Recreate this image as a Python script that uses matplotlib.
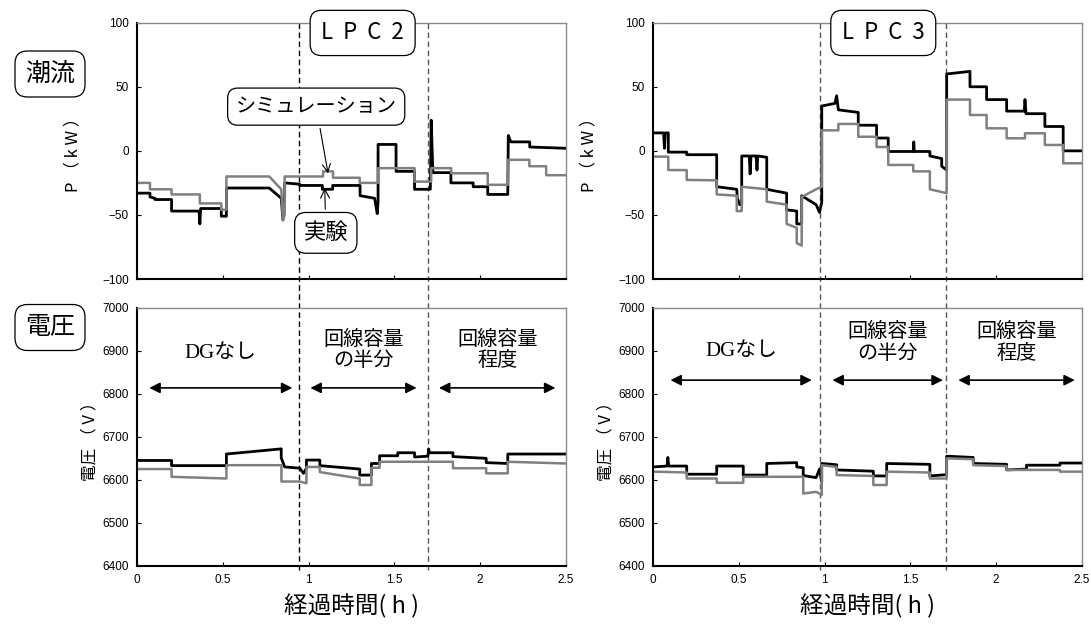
import matplotlib
matplotlib.use("Agg")
import matplotlib.pyplot as plt
from matplotlib.lines import Line2D
from matplotlib.transforms import blended_transform_factory

plt.rcParams['font.family'] = ['Liberation Sans', 'Noto Sans CJK JP']
JP = ['Noto Sans CJK JP', 'DejaVu Sans']

# ---- data (time in h) ----
# LPC2 power flow P (kW)
lpc2_p_exp_t = [0, 0.074, 0.074, 0.103, 0.103, 0.20, 0.20, 0.36, 0.365, 0.37, 0.49, 0.49, 0.52, 0.52,
                0.77, 0.84, 0.85, 0.86, 0.86, 0.948, 0.948, 1.08, 1.08, 1.14, 1.14, 1.30, 1.30, 1.385,
                1.40, 1.405, 1.405, 1.51, 1.51, 1.618, 1.618, 1.71, 1.715, 1.725, 1.83, 1.83, 1.96, 1.96,
                2.045, 2.045, 2.162, 2.165, 2.18, 2.29, 2.29, 2.5]
lpc2_p_exp = [-33, -33, -36, -37, -38, -38, -47, -47, -57, -45, -45, -51, -51, -29,
              -29, -37, -54, -36, -25, -26, -27, -27, -30, -30, -27, -27, -35, -37,
              -49, -40, 5, 5, -16, -16, -30, -30, 24, -17, -17, -25, -25, -28,
              -28, -34, -34, 12, 7, 7, 3, 2]
lpc2_p_sim_t = [0, 0.074, 0.074, 0.20, 0.20, 0.365, 0.365, 0.49, 0.49, 0.52, 0.52, 0.77, 0.84, 0.85,
                0.86, 0.86, 1.084, 1.084, 1.142, 1.142, 1.298, 1.298, 1.405, 1.405, 1.618, 1.618,
                1.715, 1.715, 1.832, 1.832, 2.045, 2.045, 2.162, 2.162, 2.288, 2.288, 2.386, 2.386, 2.5]
lpc2_p_sim = [-25, -25, -30, -30, -34, -34, -41, -41, -46, -46, -20, -20, -30, -54,
              -50, -20, -20, -16, -16, -21, -21, -25, -25, -13.5, -13.5, -24,
              -24, -13.5, -13.5, -17.5, -17.5, -26.5, -26.5, -7, -7, -12, -12, -19, -19]

# LPC2 voltage (V)
lpc2_v_exp_t = [0, 0.2, 0.2, 0.52, 0.52, 0.84, 0.84, 0.86, 0.948, 0.97, 0.987, 0.987, 1.065, 1.065,
                1.298, 1.298, 1.366, 1.366, 1.414, 1.414, 1.52, 1.52, 1.618, 1.618, 1.696, 1.70,
                1.705, 1.842, 1.842, 2.036, 2.036, 2.162, 2.162, 2.5]
lpc2_v_exp = [6645, 6645, 6633, 6633, 6660, 6672, 6651, 6630, 6627, 6615, 6627, 6646, 6646, 6633,
              6625, 6611, 6611, 6638, 6638, 6656, 6656, 6663, 6663, 6653, 6655, 6672,
              6663, 6663, 6654, 6650, 6640, 6638, 6660, 6660]
lpc2_v_sim_t = [0, 0.2, 0.2, 0.52, 0.52, 0.841, 0.841, 0.948, 0.987, 0.987, 1.065, 1.065, 1.298,
                1.298, 1.366, 1.366, 1.414, 1.414, 1.842, 1.842, 2.036, 2.036, 2.162, 2.162, 2.5]
lpc2_v_sim = [6625, 6625, 6607, 6603, 6634, 6634, 6596, 6596, 6592, 6630, 6630, 6618, 6603,
              6588, 6588, 6628, 6628, 6642, 6642, 6627, 6627, 6615, 6615, 6642, 6638]

# LPC3 power flow P (kW)
lpc3_p_exp_t = [0, 0.06, 0.065, 0.07, 0.0875, 0.0875, 0.195, 0.195, 0.37, 0.37, 0.487, 0.49, 0.505,
                0.516, 0.516, 0.56, 0.565, 0.57, 0.60, 0.605, 0.61, 0.662, 0.662, 0.778, 0.778,
                0.837, 0.837, 0.866, 0.866, 0.95, 0.97, 0.983, 0.983, 1.06, 1.07, 1.08, 1.196, 1.196,
                1.303, 1.303, 1.371, 1.371, 1.517, 1.52, 1.523, 1.614, 1.614, 1.683, 1.683, 1.712,
                1.712, 1.848, 1.848, 1.945, 1.945, 2.062, 2.062, 2.165, 2.169, 2.175, 2.285, 2.285,
                2.392, 2.392, 2.5]
lpc3_p_exp = [14, 14, 2, 14, 14, -1, -1, -3, -3, -28, -30, -37, -42,
              -42, -4, -4, -18, -4, -4, -15, -4, -5, -30, -33, -46,
              -47, -57, -57, -35, -42, -48, -40, 35, 37, 43, 32, 30, 20,
              20, 10, 10, -0.5, -0.5, 7, -0.5, -0.5, -4, -6, -12, -15,
              60, 62, 50, 50, 40, 40, 31, 31, 40, 29, 29, 19,
              19, 0, 0]
lpc3_p_sim_t = [0, 0.0875, 0.0875, 0.195, 0.195, 0.37, 0.37, 0.487, 0.487, 0.516, 0.516, 0.662,
                0.662, 0.778, 0.778, 0.837, 0.837, 0.866, 0.866, 0.95, 0.983, 0.983, 1.08, 1.08,
                1.196, 1.196, 1.303, 1.303, 1.371, 1.371, 1.517, 1.517, 1.614, 1.614, 1.712, 1.712,
                1.848, 1.848, 1.945, 1.945, 2.062, 2.062, 2.169, 2.169, 2.285, 2.285, 2.392, 2.392, 2.5]
lpc3_p_sim = [-4.5, -4.5, -15, -15, -22.7, -23, -34, -35, -47, -47, -28, -30,
              -39.6, -42, -57, -60, -72, -74, -36, -30, -28, 16, 16, 21,
              21, 11, 11, 3, 3, -11, -11, -16, -16, -30, -33, 40,
              40, 28, 28, 17.6, 17.6, 9.8, 9.8, 13.7, 13.7, 4.6, 4.6, -9.7, -9.7]

# LPC3 voltage (V)
lpc3_v_exp_t = [0, 0.08, 0.085, 0.09, 0.195, 0.195, 0.37, 0.37, 0.525, 0.525, 0.662, 0.662, 0.837,
                0.837, 0.875, 0.875, 0.95, 0.97, 0.983, 0.983, 1.07, 1.07, 1.284, 1.284, 1.362,
                1.362, 1.614, 1.614, 1.712, 1.712, 1.867, 1.867, 2.062, 2.062, 2.178, 2.178, 2.373,
                2.373, 2.5]
lpc3_v_exp = [6630, 6632, 6652, 6632, 6632, 6613, 6613, 6632, 6632, 6611, 6611, 6638, 6640,
              6630, 6628, 6610, 6605, 6625, 6595, 6638, 6635, 6623, 6620, 6609, 6609,
              6638, 6636, 6609, 6612, 6655, 6652, 6638, 6636, 6623, 6625, 6634, 6634,
              6639, 6639]
lpc3_v_sim_t = [0, 0.195, 0.195, 0.37, 0.37, 0.525, 0.525, 0.875, 0.875, 0.95, 0.983, 0.983, 1.07,
                1.07, 1.284, 1.284, 1.362, 1.362, 1.614, 1.614, 1.712, 1.712, 1.867, 1.867, 2.062,
                2.062, 2.373, 2.373, 2.5]
lpc3_v_sim = [6619, 6617, 6603, 6603, 6593, 6593, 6607, 6607, 6568, 6572, 6565, 6634, 6630,
              6611, 6609, 6588, 6588, 6619, 6617, 6603, 6603, 6650, 6648, 6634, 6632,
              6623, 6623, 6619, 6619]

lpc2_bounds = [0.944, 1.696]
lpc3_bounds = [0.974, 1.71]
x_ticks = [0, 0.5, 1, 1.5, 2, 2.5]
x_tick_labels = ['0', '0.5', '1', '1.5', '2', '2.5']
p_ticks = [-100, -50, 0, 50, 100]
v_ticks = [6400, 6500, 6600, 6700, 6800, 6900, 7000]

fig = plt.figure(figsize=(10.91, 6.28), dpi=100, facecolor='white')
W, H = 1091, 628


def make_ax(x0, x1, y0, y1):
    ax = fig.add_axes([x0 / W, 1 - y1 / H, (x1 - x0) / W, (y1 - y0) / H])
    ax.set_facecolor('none')
    return ax


def style(ax, ylim, yticks, show_x):
    ax.set_xlim(0, 2.5)
    ax.set_ylim(*ylim)
    ax.set_yticks(yticks)
    ax.set_xticks(x_ticks)
    ax.set_xticklabels(x_tick_labels if show_x else [])
    ax.tick_params(direction='in', length=3, labelsize=8.5, pad=6, width=0.8)
    for s in ['top', 'right']:
        ax.spines[s].set_color('#8a8a8a')
        ax.spines[s].set_linewidth(1.0)
    for s in ['left', 'bottom']:
        ax.spines[s].set_color('black')
        ax.spines[s].set_linewidth(1.5)


panels = [
    (137.3, 565.7, lpc2_bounds, 'L  P  C  2', 1.315,
     (lpc2_p_exp_t, lpc2_p_exp, lpc2_p_sim_t, lpc2_p_sim),
     (lpc2_v_exp_t, lpc2_v_exp, lpc2_v_sim_t, lpc2_v_sim)),
    (653.3, 1081.7, lpc3_bounds, 'L  P  C  3', 1.342,
     (lpc3_p_exp_t, lpc3_p_exp, lpc3_p_sim_t, lpc3_p_sim),
     (lpc3_v_exp_t, lpc3_v_exp, lpc3_v_sim_t, lpc3_v_sim)),
]

box = dict(boxstyle='round,pad=0.4,rounding_size=0.5', fc='white', ec='black', lw=0.9)
arrow2 = dict(arrowstyle='<|-|>', mutation_scale=16, color='black', lw=1.2, shrinkA=0, shrinkB=0)

axes = []
for i, (x0, x1, bounds, title, title_x, pdat, vdat) in enumerate(panels):
    ax_p = make_ax(x0, x1, 22.7, 279)
    ax_v = make_ax(x0, x1, 308, 565.7)
    style(ax_p, (-100, 100), p_ticks, False)
    style(ax_v, (6400, 7000), v_ticks, True)
    ax_p.plot(pdat[0], pdat[1], color='black', lw=2.0)
    ax_p.plot(pdat[2], pdat[3], color='#808080', lw=1.8)
    ax_v.plot(vdat[0], vdat[1], color='black', lw=2.0)
    ax_v.plot(vdat[2], vdat[3], color='#808080', lw=1.8)
    ax_p.set_ylabel('P （ k W ）', family=JP, fontsize=12, labelpad=15)
    ax_v.set_ylabel('電圧 （ V ）', family=JP, fontsize=12, labelpad=3)
    ax_v.set_xlabel('経過時間( h )', family=JP, fontsize=17, labelpad=6)

    # dashed section boundaries spanning both panels (drawn beneath the axes content)
    tr = blended_transform_factory(ax_p.transData, fig.transFigure)
    for k, b in enumerate(bounds):
        col = 'black' if (i == 0 and k == 0) else '#555555'
        fig.add_artist(Line2D([b, b], [1 - 22.7 / H, 1 - 570 / H], transform=tr,
                              color=col, lw=1.0, ls=(0, (4, 2.5)), zorder=-1))

    ax_p.text(title_x, 92, title, family=JP, fontsize=16, ha='center', va='center',
              bbox=dict(boxstyle='round,pad=0.5,rounding_size=0.5', fc='white', ec='black', lw=0.9),
              zorder=5, clip_on=False)
    axes.append((ax_p, ax_v, bounds))

# annotations on the LPC2 panel
ax_p2 = axes[0][0]
ax_p2.annotate('シミュレーション', xy=(1.113, -17.5), xytext=(1.044, 34.5), family=JP, fontsize=14.5,
               ha='center', va='center', bbox=box,
               arrowprops=dict(arrowstyle='->', color='black', lw=0.8, shrinkB=0))
ax_p2.annotate('実験', xy=(1.094, -29), xytext=(1.10, -64), family=JP, fontsize=16,
               ha='center', va='center', bbox=box,
               arrowprops=dict(arrowstyle='->', color='black', lw=0.8, shrinkB=0))

# section labels in the voltage panels
sec_labels = ['DGなし', '回線容量\nの半分', '回線容量\n程度']
sec_spans = [
    [(0.07, 0.905, 6814, 6895), (1.01, 1.63, 6814, 6902), (1.76, 2.44, 6814, 6902)],
    [(0.10, 0.925, 6832, 6898), (1.045, 1.69, 6832, 6920), (1.78, 2.46, 6832, 6920)],
]
for (ax_p, ax_v, bounds), spans in zip(axes, sec_spans):
    for lab, (a, b, ya, yt) in zip(sec_labels, spans):
        ax_v.annotate('', xy=(a, ya), xytext=(b, ya), arrowprops=arrow2)
        if lab.startswith('DG'):
            ax_v.text((a + b) / 2, yt, lab, family=['Liberation Serif', 'Noto Sans CJK JP'],
                      fontsize=15, ha='center', va='center')
        else:
            ax_v.text((a + b) / 2, yt, lab, family=JP, fontsize=14.5, ha='center', va='center',
                      linespacing=1.05)

# row labels
fig.text(50 / W, 1 - 74 / H, '潮流', family=JP, fontsize=18, ha='center', va='center', bbox=box)
fig.text(50 / W, 1 - 327.5 / H, '電圧', family=JP, fontsize=18, ha='center', va='center', bbox=box)

fig.savefig('out.png', dpi=100, facecolor='white')
